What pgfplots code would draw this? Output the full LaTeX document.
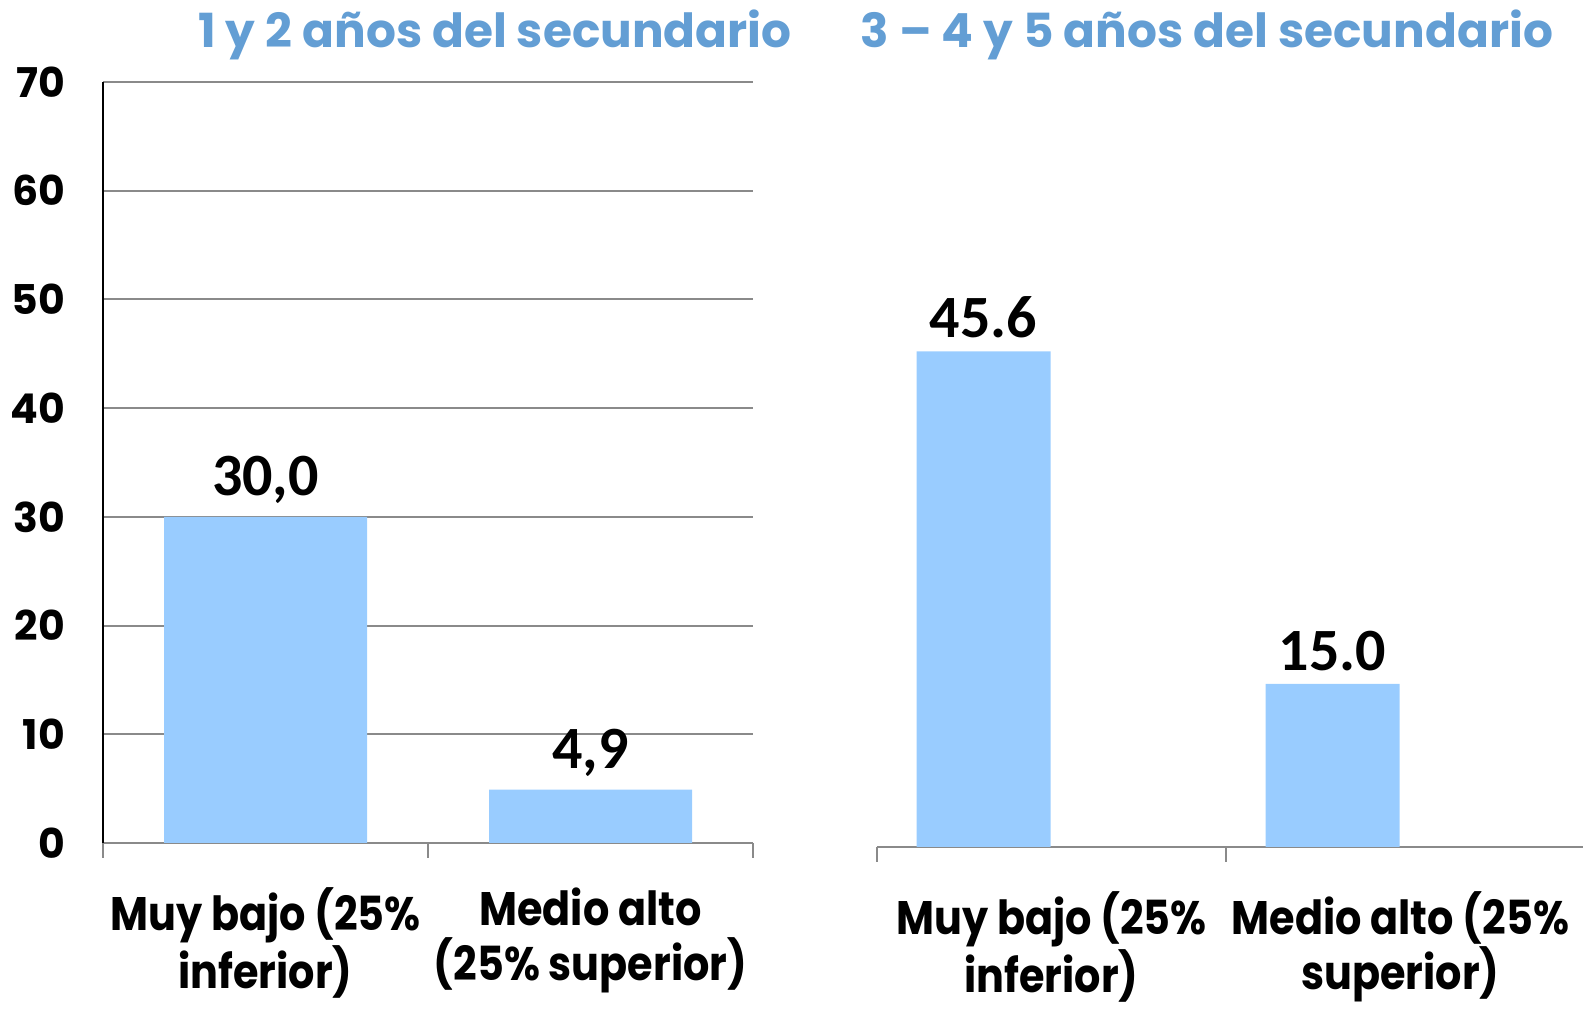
\documentclass[border=0pt]{standalone}
\usepackage{pgfplots}
\pgfplotsset{compat=1.18}
\usepackage{fontspec}
\setmainfont{Poppins}
\newfontfamily\lblfont{Poppins}[FakeStretch=0.88]
\newfontfamily\datafont{Carlito}
\definecolor{barblue}{HTML}{99CCFF}
\definecolor{titleblue}{HTML}{639ED4}
\definecolor{gridgray}{HTML}{8A8A8A}

\pgfplotsset{
  /pgf/number format/assume math mode=true,
  panel/.style={
    scale only axis,
    anchor=origin,
    ymin=0, ymax=70,
    ytick={0,10,...,70},
    ymajorgrids=true,
    grid style={gridgray, line width=1pt},
    major tick length=7.5pt,
    tick align=outside,
    x tick style={gridgray, line width=1pt},
    y tick style={draw=none},
    axis x line*=bottom,
    x axis line style={gridgray, line width=1pt, -},
    xticklabels={},
    ybar,
    bar shift=0pt,
    extra x tick style={
      major tick length=0pt,
      xmajorgrids=false,
      xticklabel style={font=\lblfont\bfseries\fontsize{23.5}{27.5}\selectfont,
        align=center, anchor=north, yshift=-19pt},
    },
    nodes near coords,
    every node near coord/.append style={font=\datafont\bfseries\fontsize{30}{30}\selectfont,
      black, anchor=south, yshift=3pt},
  },
}

\begin{document}
\begin{tikzpicture}
\path[use as bounding box] (0pt,0pt) rectangle (791.5pt,505pt);

% left panel
\begin{axis}[panel,
  at={(51.5pt,83.5pt)},
  width=325pt, height=380.5pt,
  xmin=0, xmax=2, xtick={0,1,2},
  extra x ticks={0.5,1.5},
  extra x tick labels={{Muy bajo (25\%\\inferior)},{Medio alto\\(25\% superior)}},
  axis y line*=left,
  y axis line style={black, line width=1pt, -},
  yticklabel style={font=\bfseries\fontsize{20.5}{20.5}\selectfont, xshift=-8pt},
  bar width=101.5pt,
  nodes near coords={\pgfmathprintnumber[fixed,fixed zerofill,precision=1,use comma]{\pgfplotspointmeta}},
]
\addplot[fill=barblue, draw=none] coordinates {(0.5,30.0) (1.5,4.9)};
\end{axis}

% right panel
\begin{axis}[panel,
  at={(438.5pt,81.5pt)},
  width=353pt, height=380.5pt,
  xmin=0, xmax=2.023, xtick={0,1},
  extra x ticks={0.5,1.5},
  extra x tick labels={{Muy bajo (25\%\\inferior)},{Medio alto (25\%\\superior)}},
  axis y line=none,
  yticklabels={},
  bar width=67pt,
  bar shift=-34pt,
  nodes near coords={\pgfmathprintnumber[fixed,fixed zerofill,precision=1]{\pgfplotspointmeta}},
]
\addplot[fill=barblue, draw=none] coordinates {(0.5,45.6) (1.5,15.0)};
\end{axis}

\node[anchor=base, font=\bfseries\fontsize{23.5}{23.5}\selectfont, text=titleblue] at (247.5pt,481pt) {1 y 2 años del secundario};
\node[anchor=base, font=\bfseries\fontsize{23.5}{23.5}\selectfont, text=titleblue] at (603.5pt,481pt) {3 – 4 y 5 años del secundario};
\end{tikzpicture}
\end{document}
